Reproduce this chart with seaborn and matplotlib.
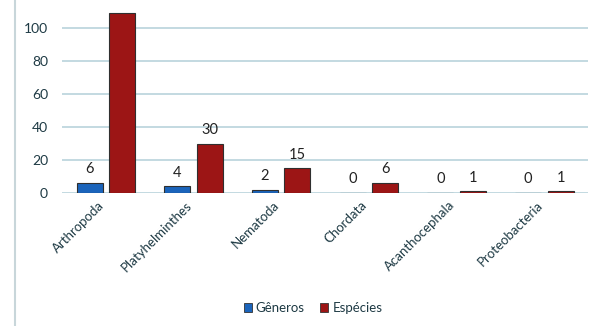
import matplotlib
matplotlib.use("Agg")
import matplotlib.pyplot as plt
import matplotlib.transforms as mtransforms
import seaborn as sns
import pandas as pd
from matplotlib.lines import Line2D
from matplotlib.patches import Patch

categories = ["Arthropoda", "Platyhelminthes", "Nematoda", "Chordata", "Acanthocephala", "Proteobacteria"]
generos = [6, 4, 2, 0, 0, 0]
especies = [109, 30, 15, 6, 1, 1]
series_names = ["Gêneros", "Espécies"]
yticks = [0, 20, 40, 60, 80, 100]

df = pd.DataFrame({
    "cat": categories * 2,
    "val": generos + especies,
    "serie": [series_names[0]] * len(categories) + [series_names[1]] * len(categories),
})

sns.set_theme(style="white")
plt.rcParams['font.family'] = ['Lato', 'DejaVu Sans']

fig = plt.figure(figsize=(6.02, 3.26), dpi=100)
ax = fig.add_axes([0.103, 0.408, 0.874, 0.592])

blue = "#1b64bb"
red = "#9c1515"
sns.barplot(data=df, x="cat", y="val", hue="serie", order=categories,
            hue_order=series_names, palette=[blue, red], saturation=1,
            width=0.74, gap=0.2,
            edgecolor="#2f2f2f", linewidth=0.8, legend=False, ax=ax)

ax.set_ylim(0, 117)
ax.set_xlim(-0.5, 5.5)
ax.set_yticks(yticks)
ax.grid(axis="y", color="#b9d3db", linewidth=1.2)
ax.set_axisbelow(True)
for s in ax.spines.values():
    s.set_visible(False)
ax.set_xlabel("")
ax.set_ylabel("")
ax.tick_params(axis="y", length=0, pad=10, labelsize=10, labelcolor="#1e3a44")
ax.tick_params(axis="x", length=0, pad=2, labelsize=9.5, labelcolor="#1e3a44")
offset = mtransforms.ScaledTranslation(-8 / 100, -3 / 100, fig.dpi_scale_trans)
for lab in ax.get_xticklabels():
    lab.set_rotation(45)
    lab.set_ha("right")
    lab.set_rotation_mode("anchor")
    lab.set_transform(lab.get_transform() + offset)

for cont in ax.containers:
    for bar in cont:
        h = bar.get_height()
        if h > 100:
            continue
        ax.text(bar.get_x() + bar.get_width() / 2, h + 4, f"{int(h)}",
                ha="center", va="bottom", fontsize=10.5, color="#222222")

fig.add_artist(Line2D([0.025, 0.025], [0.0, 1.0], color="#c8d6da", linewidth=1.5))

handles = [Patch(facecolor=blue, edgecolor="#333333", linewidth=0.6),
           Patch(facecolor=red, edgecolor="#333333", linewidth=0.6)]
fig.legend(handles, series_names, loc="center", bbox_to_anchor=(0.52, 0.055),
           ncol=2, frameon=False, fontsize=9.5, handlelength=0.6, handleheight=0.6,
           handletextpad=0.3, columnspacing=1.2, labelcolor="#1e3a44")

fig.savefig("out.png", dpi=100)
